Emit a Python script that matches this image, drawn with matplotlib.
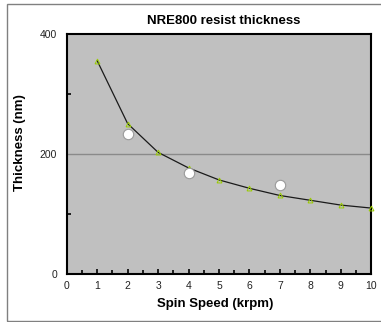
import matplotlib
matplotlib.use("Agg")
import matplotlib.pyplot as plt
from matplotlib.patches import Rectangle
from matplotlib.ticker import MultipleLocator, FixedLocator

plt.rcParams['font.family'] = ['Liberation Sans', 'DejaVu Sans']

# Data
fit_speed = [1, 2, 3, 4, 5, 6, 7, 8, 9, 10]
fit_thickness = [356, 251, 203, 177, 157, 143, 131, 123, 115, 110]
meas_speed = [2, 4, 7]
meas_thickness = [234, 168, 149]

title = "NRE800 resist thickness"
xlabel = "Spin Speed (krpm)"
ylabel = "Thickness (nm)"

W, H = 381, 322
fig = plt.figure(figsize=(W / 100, H / 100), dpi=100)
fig.patch.set_facecolor('white')

ax = fig.add_axes([66.7 / W, 1 - 274 / H, (371.3 - 66.7) / W, (274 - 34.3) / H])
ax.set_facecolor('#C0C0C0')

ax.axhline(200, color='#8a8a8a', lw=1.0, zorder=1)

ax.plot(fit_speed, fit_thickness, '-', color='#1a1a1a', lw=0.9, zorder=2)
ax.plot(fit_speed, fit_thickness, '^', ms=3.5, mfc='none', mec='#9ACD00', mew=0.7,
        zorder=3, clip_on=False)
ax.plot(meas_speed, meas_thickness, 'o', ms=7.5, mfc='white', mec='#9a9a9a', mew=0.8,
        zorder=4, clip_on=False)

ax.set_xlim(0, 10)
ax.set_ylim(0, 400)
ax.xaxis.set_major_locator(MultipleLocator(1))
ax.xaxis.set_minor_locator(MultipleLocator(0.5))
ax.yaxis.set_major_locator(MultipleLocator(200))
ax.yaxis.set_minor_locator(FixedLocator([100, 300]))

ax.tick_params(axis='both', which='both', direction='in', color='black', width=1.2,
               labelsize=7.5, labelcolor='#222222')
ax.tick_params(axis='x', which='major', length=3.5, pad=5)
ax.tick_params(axis='x', which='minor', length=3)
ax.tick_params(axis='y', which='major', length=0, pad=7)
ax.tick_params(axis='y', which='minor', length=3)

for s in ax.spines.values():
    s.set_color('black')
    s.set_linewidth(1.5)

fig.text(224 / W, 1 - 20.7 / H, title, ha='center', va='center', fontsize=9.5,
         fontweight='bold')
fig.text(215 / W, 1 - 304 / H, xlabel, ha='center', va='center', fontsize=9.5,
         fontweight='bold')
fig.text(20.5 / W, 1 - 143 / H, ylabel, ha='center', va='center', fontsize=9.5,
         fontweight='bold', rotation=90)

fig.patches.append(Rectangle((7 / W, 1.5 / H), 1.2, (320.5 - 4) / H,
                             transform=fig.transFigure, fill=False,
                             edgecolor='#808080', lw=1.0, clip_on=False))

fig.savefig('out.png', dpi=100)
